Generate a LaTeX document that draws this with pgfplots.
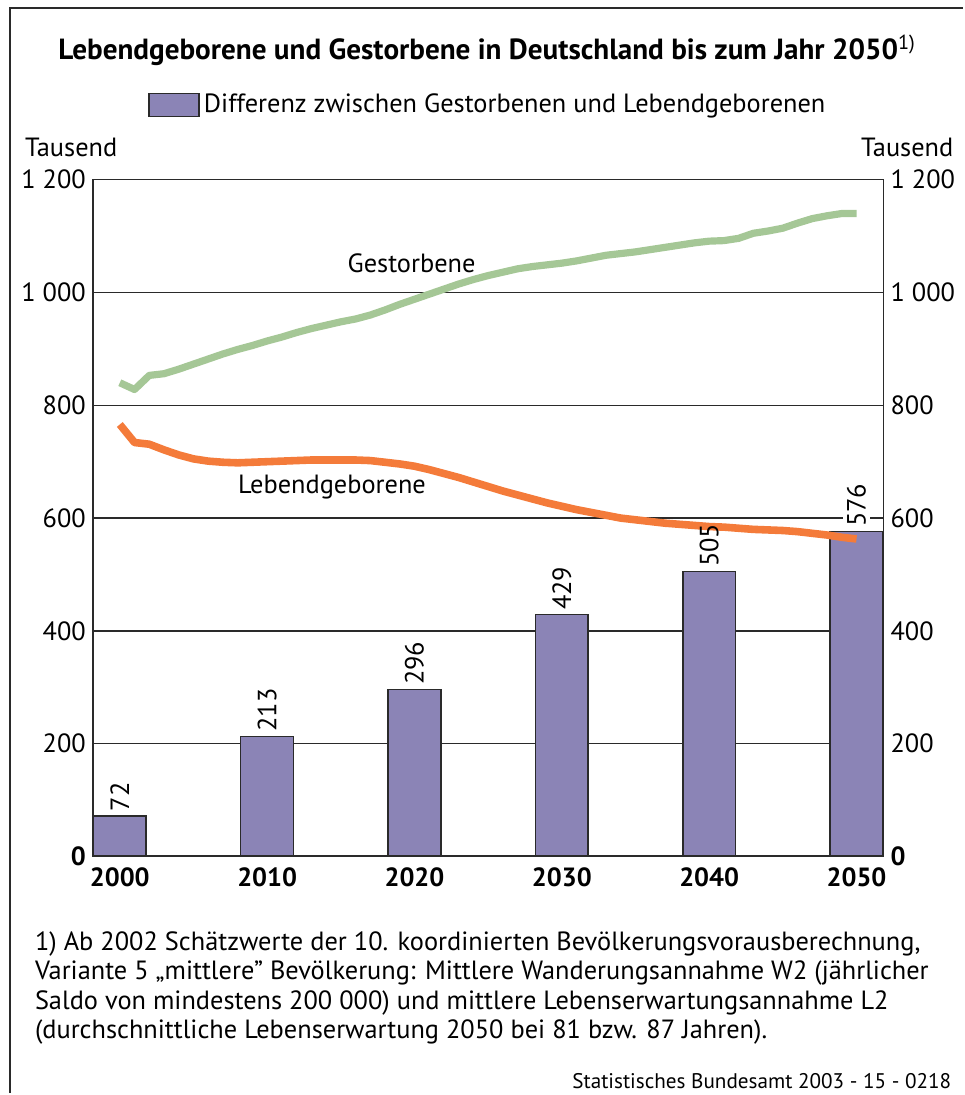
\documentclass[border=0pt]{standalone}
\usepackage{pgfplots}
\pgfplotsset{compat=1.18}
\usepackage{fontspec}
\setmainfont{PT Sans}
\definecolor{barfill}{HTML}{8B84B6}
\definecolor{gruen}{HTML}{A5C796}
\definecolor{orange}{HTML}{F47B3A}
\definecolor{linegray}{HTML}{2A2A2A}
\newcommand{\fs}{\fontsize{13.2}{15}\selectfont}
\pgfplotsset{/pgf/number format/assume math mode=true}
\begin{document}
\begin{tikzpicture}
\path (0,0) rectangle (482.5pt,-547.5pt);
\draw[line width=1pt, linegray] (5pt,-547.5pt) -- (5pt,-4pt) -- (482.5pt,-4pt);
\node[anchor=base] at (244pt,-30pt) {\fontsize{14.6}{16}\selectfont\bfseries Lebendgeborene und Gestorbene in Deutschland bis zum Jahr 2050\textsuperscript{\mdseries 1)}};
\begin{axis}[
  at={(46.5pt,-429pt)}, anchor=south west,
  scale only axis, width=396pt, height=339pt,
  xmin=1998.17, xmax=2051.83, ymin=0, ymax=1200,
  xtick={2000,2010,2020,2030,2040,2050},
  xticklabels={2000,2010,2020,2030,2040,2050},
  xticklabel style={font=\fs\bfseries, yshift=-2pt},
  ytick={0,200,400,600,800,1000,1200},
  yticklabels={\textbf{0},200,400,600,800,1~000,1~200},
  yticklabel style={font=\fs},
  tick style={draw=none},
  ymajorgrids, grid style={linegray, line width=0.6pt},
  axis line style={linegray, line width=0.7pt},
  legend style={at={(0.501,1.1106)}, anchor=center, draw=none, fill=none, font=\fs, inner sep=0pt},
  legend image code/.code={\draw[fill=barfill, draw=linegray, line width=0.8pt] (0pt,-5.75pt) rectangle (25pt,5.75pt);},
]
\addplot[ybar, bar shift=0pt, bar width=26.5pt, fill=barfill, draw=linegray, line width=0.8pt,
  nodes near coords,
  nodes near coords style={rotate=90, anchor=west, fill=white, inner sep=2pt, font=\fs, text=black}]
  coordinates {(2000,72) (2010,213) (2020,296) (2030,429) (2050,576)};
\addlegendentry{Differenz zwischen Gestorbenen und Lebendgeborenen}
\addplot[forget plot, ybar, bar shift=0pt, bar width=26.5pt, fill=barfill, draw=linegray, line width=0.8pt,
  nodes near coords,
  nodes near coords style={rotate=90, anchor=west, inner sep=2pt, font=\fs, text=black}]
  coordinates {(2040,505)};
\addplot[forget plot, gruen, line width=3.6pt, line join=round] table {
2000 840
2001 828
2002 853
2003 856
2004 864
2005 873
2006 882
2007 891
2008 899
2009 906
2010 914
2011 921
2012 929
2013 936
2014 942
2015 948
2016 953
2017 960
2018 969
2019 979
2020 988
2021 997
2022 1006
2023 1015
2024 1023
2025 1030
2026 1036
2027 1042
2028 1046
2029 1049
2030 1052
2031 1056
2032 1061
2033 1066
2034 1069
2035 1072
2036 1076
2037 1080
2038 1084
2039 1088
2040 1091
2041 1092
2042 1096
2043 1105
2044 1109
2045 1114
2046 1123
2047 1131
2048 1136
2049 1140
2050 1140
};
\addplot[forget plot, orange, line width=3.8pt, line join=round] table {
2000 766
2001 734
2002 731
2003 721
2004 712
2005 705
2006 701
2007 699
2008 698
2009 699
2010 700
2011 701
2012 702
2013 703
2014 703
2015 703
2016 703
2017 702
2018 699
2019 696
2020 692
2021 686
2022 679
2023 672
2024 664
2025 656
2026 648
2027 641
2028 634
2029 627
2030 621
2031 615
2032 610
2033 605
2034 600
2035 597
2036 594
2037 591
2038 589
2039 587
2040 585
2041 584
2042 582
2043 580
2044 579
2045 578
2046 576
2047 573
2048 570
2049 566
2050 563
};
\node[font=\fs] at (axis cs:2019.8,1051) {Gestorbene};
\node[font=\fs] at (axis cs:2014.4,655) {Lebendgeborene};
\draw[linegray, line width=1.6pt] (rel axis cs:0,0) -- (rel axis cs:1,0);
\end{axis}
\begin{axis}[
  at={(46.5pt,-429pt)}, anchor=south west,
  scale only axis, width=396pt, height=339pt,
  xmin=1998.17, xmax=2051.83, ymin=0, ymax=1200,
  axis x line=none, axis y line*=right,
  ytick={0,200,400,600,800,1000,1200},
  yticklabels={\textbf{0},200,400,600,800,1~000,1~200},
  yticklabel style={font=\fs},
  tick style={draw=none},
  axis line style={linegray, line width=0.7pt},
]
\addplot[draw=none, forget plot] coordinates {(2000,0)};
\end{axis}
\node[anchor=west, font=\fs] at (9pt,-74pt) {Tausend};
\node[anchor=east, font=\fs] at (481pt,-74pt) {Tausend};
\node[anchor=base west, font=\fs] at (14pt,-476pt) {1) Ab 2002 Schätzwerte der 10. koordinierten Bevölkerungsvorausberechnung,};
\node[anchor=base west, font=\fs] at (14pt,-490.75pt) {Variante 5 „mittlere” Bevölkerung: Mittlere Wanderungsannahme W2 (jährlicher};
\node[anchor=base west, font=\fs] at (14pt,-505.5pt) {Saldo von mindestens 200 000) und mittlere Lebenserwartungsannahme L2};
\node[anchor=base west, font=\fs] at (14pt,-520.25pt) {(durchschnittliche Lebenserwartung 2050 bei 81 bzw. 87 Jahren).};
\node[anchor=base east, font=\fontsize{10.6}{12}\selectfont] at (480pt,-545pt) {Statistisches Bundesamt 2003 - 15 - 0218};
\end{tikzpicture}
\end{document}
